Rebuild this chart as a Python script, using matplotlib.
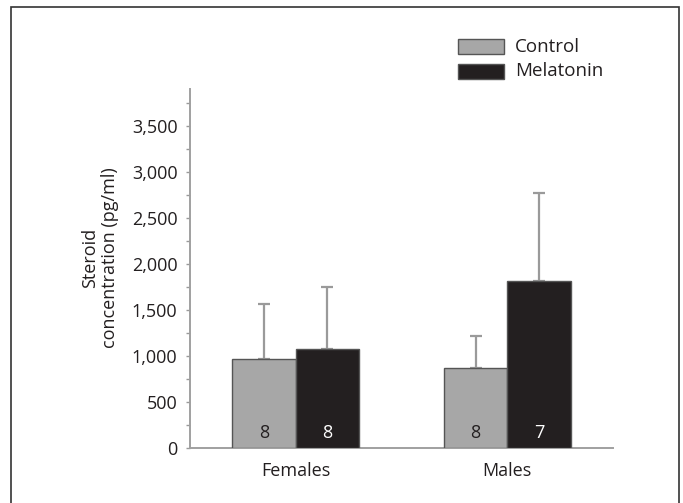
import matplotlib.pyplot as plt
import numpy as np
from matplotlib.patches import Rectangle
from matplotlib.ticker import MultipleLocator, FuncFormatter

plt.rcParams['font.family'] = ['Open Sans', 'DejaVu Sans']

groups = ["Females", "Males"]
series = ["Control", "Melatonin"]
means = {"Control": [970, 870], "Melatonin": [1080, 1810]}
errors = {"Control": [590, 345], "Melatonin": [670, 960]}
counts = {"Control": [8, 8], "Melatonin": [8, 7]}
colours = {"Control": "#a7a7a7", "Melatonin": "#231f20"}
count_colours = {"Control": "#231f20", "Melatonin": "white"}

fig = plt.figure(figsize=(6.83, 5.03), dpi=100)
ax = fig.add_axes([190 / 683, 1 - 448 / 503, 423 / 683, 359 / 503])

# outer frame, open at the bottom
fig.patches.append(Rectangle((11 / 683, -0.05), 668 / 683, 1.05 - 7 / 503,
                             transform=fig.transFigure, fill=False,
                             edgecolor="#333333", linewidth=1.2))

x = np.arange(len(groups))
w = 0.3
for i, s in enumerate(series):
    xs = x + (i - 0.5) * w
    ax.bar(xs, means[s], w, color=colours[s], edgecolor="#555555",
           linewidth=1.0, zorder=3)
    ax.errorbar(xs, means[s], yerr=[np.zeros(len(xs)), errors[s]], fmt="none",
                ecolor="#9a9a9a", elinewidth=1.6, capsize=4, capthick=1.6,
                zorder=2)
    for xi, n in zip(xs, counts[s]):
        ax.annotate(str(n), xy=(xi, 0), xytext=(0, 7.5), textcoords="offset points",
                    ha="center", va="baseline", fontsize=13,
                    color=count_colours[s], zorder=4)

ax.set_xlim(-0.5, 1.5)
ax.set_ylim(0, 3900)
ax.set_xticks(x)
ax.set_xticklabels(groups, fontsize=13, color="#231f20")
ax.tick_params(axis="x", length=0, pad=10)
ax.yaxis.set_major_locator(MultipleLocator(500))
ax.yaxis.set_minor_locator(MultipleLocator(250))
ax.yaxis.set_major_formatter(FuncFormatter(lambda v, p: f"{int(v):,}"))
ax.tick_params(axis="y", which="both", length=3, width=1, color="#9a9a9a",
               labelsize=13, labelcolor="#231f20", pad=6)
for side in ["top", "right"]:
    ax.spines[side].set_visible(False)
for side in ["left", "bottom"]:
    ax.spines[side].set_color("#a0a0a0")
    ax.spines[side].set_linewidth(1.4)

ax.set_ylabel("Steroid\nconcentration (pg/ml)", fontsize=13, color="#231f20",
              linespacing=1.1)
ax.yaxis.set_label_coords(-0.168, 0.53)

# legend drawn as boxes in figure pixels
for s, top in zip(series, [39, 64]):
    fig.patches.append(Rectangle((458 / 683, 1 - (top + 15) / 503), 46 / 683, 15 / 503,
                                 transform=fig.transFigure, facecolor=colours[s],
                                 edgecolor="#555555", linewidth=1.0))
    fig.text(515 / 683, 1 - (top + 7.5) / 503, s, fontsize=13.5, color="#231f20",
             va="center", ha="left")

fig.savefig("out.png", dpi=100)
